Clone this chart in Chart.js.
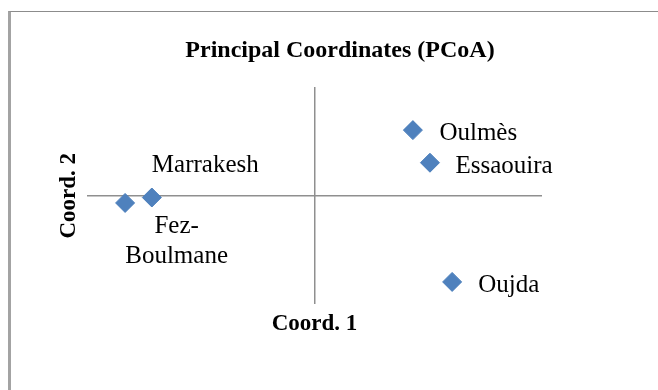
<!DOCTYPE html>
<html>
<head>
<meta charset="utf-8">
<script src="https://cdn.jsdelivr.net/npm/chart.js@4.4.1/dist/chart.umd.min.js"></script>
<style>
  html, body { margin: 0; padding: 0; background: #fff; overflow: hidden; }
  #frame {
    position: absolute; left: 8px; top: 11px; width: 900px; height: 600px;
    border-left: 3px solid #a3a3a3; border-top: 1.5px solid #8c8c8c;
  }
  #wrap { position: absolute; left: 0; top: 0; width: 658px; height: 390px; }
</style>
</head>
<body>
<div id="frame"></div>
<div id="wrap"><canvas id="chart"></canvas></div>
<script>
const TITLE = 'Principal Coordinates (PCoA)';
const X_TITLE = 'Coord. 1';
const Y_TITLE = 'Coord. 2';

// PCoA scores per region
const regions = [['Fez-', 'Boulmane'], 'Marrakesh', 'Oulmès', 'Essaouira', 'Oujda'];
const coord1 = [-0.333, -0.286, 0.173, 0.203, 0.242];
const coord2 = [-0.020, -0.005, 0.181, 0.091, -0.238];

// axis extents (axes cross at 0)
const xRange = [-0.4, 0.4];
const yRange = [-0.3, 0.3];

const SERIF = "'Liberation Serif', 'Times New Roman', serif";
const BLUE = '#4F81BD';
const AXIS_GREY = '#8f8f8f';

// where each label sits relative to its marker (as placed in the original)
const labelPlacement = [
  { dx: 51.5, dy: 29.6, align: 'center' },
  { dx: 0, dy: -25.5, align: 'left' },
  { dx: 26.5, dy: 10.3, align: 'left' },
  { dx: 25.5, dy: 10.6, align: 'left' },
  { dx: 26, dy: 10, align: 'left' },
];

const pointLabels = {
  id: 'pointLabels',
  afterDatasetsDraw(chart) {
    const ctx = chart.ctx;
    const meta = chart.getDatasetMeta(0);
    ctx.save();
    ctx.font = `25px ${SERIF}`;
    ctx.fillStyle = '#000';
    ctx.textBaseline = 'alphabetic';
    meta.data.forEach((pt, i) => {
      const p = labelPlacement[i];
      const lines = Array.isArray(regions[i]) ? regions[i] : [regions[i]];
      ctx.textAlign = p.align;
      lines.forEach((line, j) => {
        ctx.fillText(line, pt.x + p.dx, pt.y + p.dy + j * 30);
      });
    });
    ctx.restore();
  },
};

const chartTitle = {
  id: 'chartTitle',
  afterDraw(chart) {
    const ctx = chart.ctx;
    ctx.save();
    ctx.font = `bold 24px ${SERIF}`;
    ctx.fillStyle = '#000';
    ctx.textAlign = 'center';
    ctx.textBaseline = 'alphabetic';
    ctx.fillText(TITLE, 340, 57);
    ctx.restore();
  },
};

const zeroOnly = (c) => (c.tick && c.tick.value === 0 ? AXIS_GREY : 'rgba(0,0,0,0)');

new Chart(document.getElementById('chart'), {
  type: 'scatter',
  data: {
    datasets: [{
      label: 'PCoA',
      data: coord1.map((x, i) => ({ x, y: coord2[i] })),
      pointStyle: 'rectRot',
      pointRadius: 9.5,
      pointHoverRadius: 9.5,
      backgroundColor: BLUE,
      borderColor: '#4A7EBB',
      borderWidth: 1,
    }],
  },
  options: {
    responsive: true,
    maintainAspectRatio: false,
    animation: false,
    layout: { padding: { left: 55, right: 116, top: 87, bottom: 52 } },
    plugins: {
      legend: { display: false },
      tooltip: { enabled: false },
      title: { display: false },
    },
    scales: {
      x: {
        type: 'linear',
        min: xRange[0],
        max: xRange[1],
        ticks: { display: false, stepSize: 0.4 },
        grid: { color: zeroOnly, lineWidth: 1.5, drawTicks: false },
        border: { display: false },
        title: {
          display: true,
          text: X_TITLE,
          color: '#000',
          font: { family: SERIF, size: 23, weight: 'bold', lineHeight: 1.2 },
          padding: { top: 6, bottom: 0 },
        },
      },
      y: {
        type: 'linear',
        min: yRange[0],
        max: yRange[1],
        ticks: { display: false, stepSize: 0.3 },
        grid: { color: zeroOnly, lineWidth: 1.5, drawTicks: false },
        border: { display: false },
        title: {
          display: true,
          text: Y_TITLE,
          color: '#000',
          font: { family: SERIF, size: 23, weight: 'bold', lineHeight: 1.2 },
          padding: { top: 0, bottom: 4.4 },
        },
      },
    },
  },
  plugins: [pointLabels, chartTitle],
});
</script>
</body>
</html>
